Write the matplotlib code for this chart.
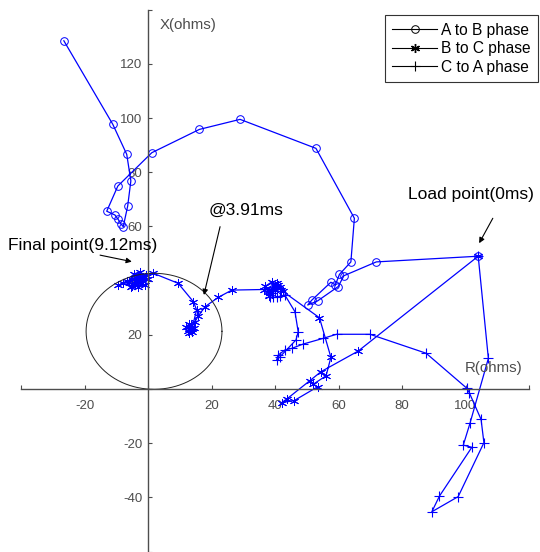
import matplotlib
matplotlib.use('Agg')
import matplotlib.pyplot as plt
import numpy as np
from matplotlib.lines import Line2D

plt.rcParams['font.family'] = ['Liberation Sans', 'DejaVu Sans']

# ---- data (R, X in ohms) ----
ab_r = [104, 71.9, 61.7, 59.9, 53.4, 50.3, 51.6, 57.6, 59.0, 60.3, 63.9, 65.0, 52.9, 29.0,
        16.2, 1.2, -9.5, -13.0, -10.4, -9.4, -8.5, -7.8, -6.4, -5.4, -6.7, -11.1, -26.5]
ab_x = [49, 46.9, 41.8, 37.8, 32.5, 31.0, 32.8, 39.4, 38.4, 42.3, 46.9, 63.0, 88.8, 99.5,
        95.8, 87.2, 74.9, 65.6, 64.2, 62.6, 60.9, 59.9, 67.5, 76.8, 86.6, 97.7, 128.5]

bc_r = [104, 66.2, 54.5, 51.0, 43.7, 42.1, 46.0, 53.4, 52.1, 56.1, 57.6, 54.0,
        42.5, 41.0, 39.5, 38.0, 40.0, 41.5, 38.5, 37.0, 39.0, 42.0, 40.5, 36.5, 38.0, 40.0,
        26.4, 22.1, 18.0, 15.8, 14.8, 13.2, 12.5, 14.0, 13.5, 12.8, 14.5, 13.0, 12.0, 13.8,
        15.3, 14.3, 9.5, 1.7,
        -1.0, -3.0, -5.0, -2.0, -4.0, -1.5, -3.5, 0.0, -2.5, -4.5, -6.0, -3.0, -1.0,
        -5.5, -2.0, -4.0, -0.5, -3.0, -5.0, -7.8, -9.4, -6.5, -2.5]
bc_x = [49, 14.0, 6.4, 3.1, -3.7, -5.0, -4.3, 0.8, 1.8, 4.9, 11.7, 26.3,
        36.0, 38.5, 37.0, 36.0, 38.0, 37.5, 35.5, 38.0, 39.5, 36.5, 39.0, 36.5, 34.5, 36.8,
        36.5, 33.8, 30.4, 26.9, 24.8, 22.4, 21.5, 21.0, 23.5, 20.5, 22.5, 24.0, 23.0, 22.0,
        29.2, 32.2, 39.0, 42.7,
        41.5, 42.0, 40.5, 39.0, 38.5, 40.0, 41.0, 40.5, 43.0, 42.5, 39.5, 37.5, 38.5,
        37.8, 41.0, 40.0, 42.0, 39.5, 38.0, 39.0, 38.2, 40.0, 41.0]

ca_r = [104, 107.2, 101.4, 99.3, 102.0, 91.8, 89.4, 97.7, 105.8, 104.9, 101.2, 100.4,
        87.6, 69.9, 59.4, 55.2, 48.9, 45.3, 43.1, 41.0, 40.5, 41.5, 46.6, 47.3, 46.3,
        43.1, 41.5, 40.5, 39.5, 38.5, 39.0, 40.0]
ca_x = [49, 11.3, -12.7, -20.7, -21.5, -39.5, -45.3, -39.7, -19.8, -11.2, -1.4, 0.3,
        13.2, 20.2, 20.2, 18.7, 16.6, 15.0, 14.4, 12.5, 10.7, 11.8, 18.1, 21.1, 28.5,
        34.7, 34.2, 34.0, 33.8, 34.0, 35.5, 36.0]

circle_center = (1.9, 21.3)
circle_radius = 21.4

xticks = [-40, -20, 0, 20, 40, 60, 80, 100, 120]
yticks = [-60, -40, -20, 0, 20, 40, 60, 80, 100, 120, 140]
legend_labels = ['A to B phase', 'B to C phase', 'C to A phase']

# ---- figure ----
fig = plt.figure(figsize=(5.4, 5.52), dpi=100)
ax = fig.add_axes([21 / 540, 0.0007, 508 / 540, 0.9819])
ax.set_xlim(-40, 120)
ax.set_ylim(-60, 140)

blue = '#0000ff'
ast = (6, 2, 0)
ax.plot(ab_r, ab_x, color=blue, lw=0.9, marker='o', ms=5.5, mfc='none', mec=blue, mew=0.7)
ax.plot(bc_r, bc_x, color=blue, lw=0.9, marker=ast, ms=6.5, mec=blue, mew=0.7)
ax.plot(ca_r, ca_x, color=blue, lw=0.9, marker='+', ms=7, mec=blue, mew=0.8)

th = np.linspace(0, 2 * np.pi, 400)
ax.plot(circle_center[0] + circle_radius * np.cos(th),
        circle_center[1] + circle_radius * np.sin(th), color='#222222', lw=0.7)

# axes through origin
gray = '#4d4d4d'
for s in ['top', 'right']:
    ax.spines[s].set_visible(False)
ax.spines['left'].set_position(('data', 0))
ax.spines['bottom'].set_position(('data', 0))
for s in ['left', 'bottom']:
    ax.spines[s].set_color(gray)
    ax.spines[s].set_linewidth(1.0)
ax.set_xticks(xticks)
ax.set_yticks(yticks)
ax.set_xticklabels(['' if t in (-40, 0, 120) else str(t) for t in xticks])
ax.set_yticklabels(['' if t in (-60, 0, 140) else str(t) for t in yticks])
ax.tick_params(axis='both', direction='in', length=3, width=0.8, color=gray,
               labelcolor=gray, labelsize=9.5)
ax.tick_params(axis='x', pad=8)
ax.tick_params(axis='y', pad=4)
ax.patch.set_visible(False)

ax.text(3.8, 134.3, 'X(ohms)', color=gray, fontsize=10.8, ha='left', va='center')
ax.text(99.8, 7.6, 'R(ohms)', color=gray, fontsize=10.8, ha='left', va='center')

arrow = dict(arrowstyle='-|>', color='black', lw=0.8, mutation_scale=8, shrinkA=0, shrinkB=0)
ax.annotate('', xy=(-5.1, 47.0), xytext=(-15.1, 49.4), arrowprops=arrow, annotation_clip=False)
ax.text(-44.1, 53.1, 'Final point(9.12ms)', fontsize=12.5, ha='left', va='center')
ax.annotate('', xy=(17.6, 34.7), xytext=(22.7, 59.9), arrowprops=arrow)
ax.text(19.0, 65.8, '@3.91ms', fontsize=12.5, ha='left', va='center')
ax.annotate('', xy=(104.3, 53.8), xytext=(108.6, 63.0), arrowprops=arrow)
ax.text(82.0, 71.6, 'Load point(0ms)', fontsize=12.5, ha='left', va='center')

handles = [Line2D([], [], color='black', lw=0.8, marker='o', ms=5.5, mfc='none', mew=0.7),
           Line2D([], [], color='black', lw=0.8, marker=ast, ms=6.5, mew=1.0),
           Line2D([], [], color='black', lw=0.8, marker='+', ms=7, mew=0.8)]
leg = ax.legend(handles, legend_labels, loc='upper right',
                bbox_to_anchor=(538 / 540, 1 - 15 / 552), bbox_transform=fig.transFigure,
                fontsize=11.2, frameon=True, fancybox=False, framealpha=1,
                edgecolor='#333333', borderpad=0.5, handlelength=2.9, handletextpad=0.2,
                labelspacing=0.22, borderaxespad=0)
leg.get_frame().set_linewidth(0.8)

fig.savefig('out.png', dpi=100)
